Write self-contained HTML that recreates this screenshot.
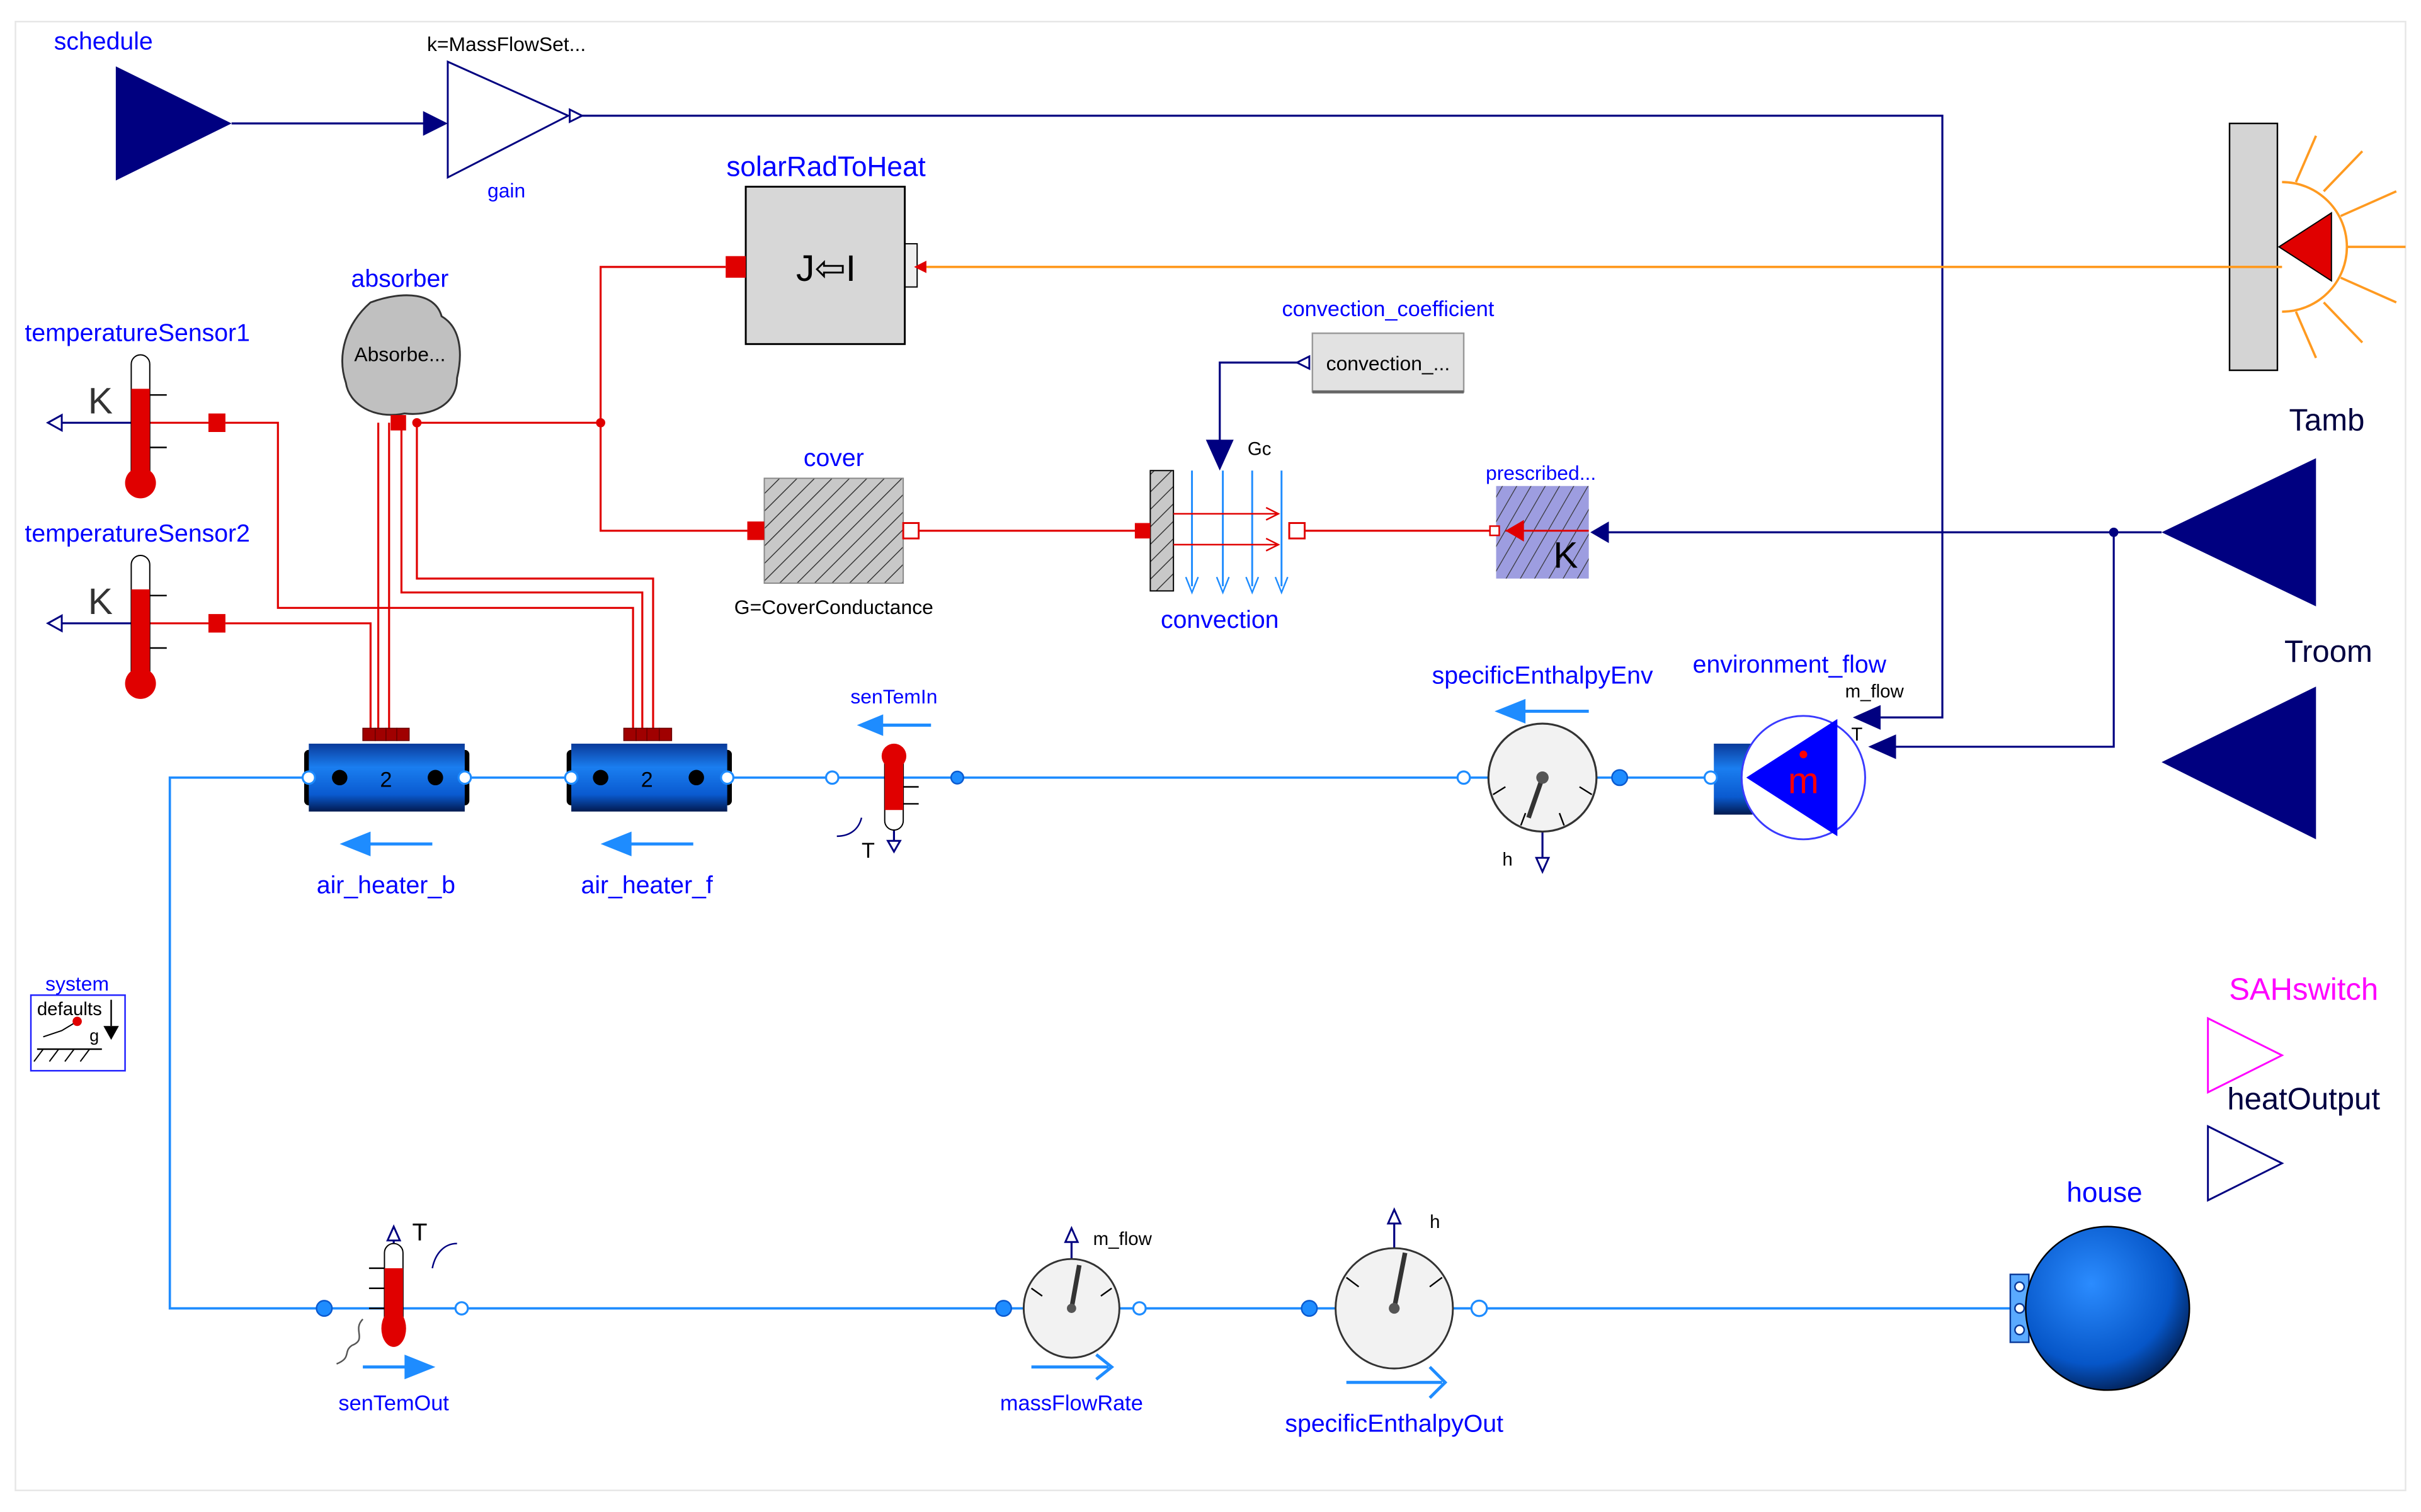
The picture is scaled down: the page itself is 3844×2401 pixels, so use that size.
<!DOCTYPE html>
<html><head><meta charset="utf-8"><style>html,body{margin:0;padding:0;background:#fff}svg{display:block}text{font-family:"Liberation Sans",sans-serif}</style></head>
<body>
<svg width="3844" height="2401" viewBox="0 0 1568 980" preserveAspectRatio="none" xmlns="http://www.w3.org/2000/svg">
<defs>
<pattern id="h1" width="8" height="8" patternUnits="userSpaceOnUse" patternTransform="rotate(45)"><rect width="8" height="8" fill="#c8c8c8"/><line x1="0" y1="0" x2="0" y2="8" stroke="#333" stroke-width="1.2"/></pattern>
<pattern id="h2" width="8" height="8" patternUnits="userSpaceOnUse" patternTransform="rotate(30)"><rect width="8" height="8" fill="#9d9de0"/><line x1="0" y1="0" x2="0" y2="8" stroke="#333" stroke-width="1"/></pattern>
<linearGradient id="pipe" x1="0" y1="0" x2="0" y2="1"><stop offset="0" stop-color="#0a3a9a"/><stop offset="0.35" stop-color="#1a7ef0"/><stop offset="0.75" stop-color="#0a5ad0"/><stop offset="1" stop-color="#021a50"/></linearGradient>
<radialGradient id="ball" cx="0.4" cy="0.35" r="0.7"><stop offset="0" stop-color="#2b8cff"/><stop offset="0.7" stop-color="#0656c8"/><stop offset="1" stop-color="#021c4c"/></radialGradient>
</defs>
<rect x="10" y="14" width="1548" height="952" fill="none" stroke="#e6e6e6"/>

<g stroke="#000080" stroke-width="1.3" fill="none">
<polyline points="150,80 276,80"/>
<polyline points="376,75 1258,75 1258,465 1218,465"/>
<polyline points="1400,345 1042,345"/>
<polyline points="1369,345 1369,484 1228,484"/>
<polyline points="848,235 790,235 790,287"/>
<line x1="85" y1="274" x2="40" y2="274"/>
<line x1="85" y1="404" x2="40" y2="404"/>
<line x1="999" y1="539" x2="999" y2="556"/>
<line x1="579" y1="530" x2="579" y2="545"/>
<line x1="255" y1="820" x2="255" y2="804"/>
<line x1="694" y1="817" x2="694" y2="805"/>
<line x1="903" y1="810" x2="903" y2="793"/>
</g>
<g fill="#000080">
<polygon points="75,43 150,80 75,117"/>
<polygon points="274,72 290,80 274,88"/>
<polygon points="1500,297 1400,345 1500,393"/>
<polygon points="1500,445 1400,494 1500,544"/>
<polygon points="1042,338 1030,345 1042,352"/>
<polygon points="1218,457 1200,465 1218,473"/>
<polygon points="1228,476 1210,484 1228,492"/>
<polygon points="781,285 799,285 790,305"/>
<circle cx="1369" cy="345" r="3"/>
</g>
<g fill="#fff" stroke="#000080" stroke-width="1.2">
<polygon points="290,40 368,75 290,115"/>
<polygon points="369,71 377,75 369,79"/>
<polygon points="848,231 840,235 848,239"/>
<polygon points="40,269 31,274 40,279"/>
<polygon points="40,399 31,404 40,409"/>
<polygon points="995,556 1003,556 999,565"/>
<polygon points="575,545 583,545 579,552"/>
<polygon points="251,804 259,804 255,795"/>
<polygon points="690,805 698,805 694,796"/>
<polygon points="899,793 907,793 903,784"/>
</g>

<rect x="1444" y="80" width="31" height="160" fill="#d4d4d4" stroke="#000" stroke-width="1"/>
<path d="M1478,118 A42,42 0 0 1 1478,202" fill="none" stroke="#ff9a20" stroke-width="1.5"/>
<g stroke="#ff9a20" stroke-width="1.5">
<line x1="1520" y1="160" x2="1558" y2="160"/><line x1="1516" y1="140" x2="1552" y2="124"/><line x1="1516" y1="180" x2="1552" y2="196"/>
<line x1="1505" y1="124" x2="1530" y2="98"/><line x1="1505" y1="196" x2="1530" y2="222"/><line x1="1487" y1="118" x2="1500" y2="88"/><line x1="1487" y1="202" x2="1500" y2="232"/>
<line x1="1478" y1="173" x2="600" y2="173"/>
</g>
<polygon points="1476,160 1510,138 1510,182" fill="#e00000" stroke="#000" stroke-width="0.8"/>
<rect x="586" y="158" width="8" height="28" fill="#eee" stroke="#000" stroke-width="0.8"/>
<polygon points="600,169 592,173 600,177" fill="#e00000"/>

<rect x="483" y="121" width="103" height="102" fill="#d7d7d7" stroke="#000" stroke-width="1.2"/>
<text x="535" y="182" font-size="24" text-anchor="middle" fill="#000">J⇦I</text>
<text x="535" y="114" font-size="18" text-anchor="middle" fill="#0000ff">solarRadToHeat</text>

<g stroke="#e00000" stroke-width="1.3" fill="none">
<polyline points="470,173 389,173 389,344 484,344"/>
<line x1="270" y1="274" x2="389" y2="274"/>
<line x1="97" y1="274" x2="135" y2="274"/>
<line x1="97" y1="404" x2="135" y2="404"/>
<polyline points="146,274 180,274 180,394 410,394 410,480"/>
<polyline points="146,404 240,404 240,480"/>
<line x1="245" y1="274" x2="245" y2="480"/>
<line x1="252" y1="274" x2="252" y2="480"/>
<polyline points="260,274 260,384 416,384 416,480"/>
<polyline points="270,274 270,375 423,375 423,480"/>
<line x1="595" y1="344" x2="740" y2="344"/>
<line x1="845" y1="344" x2="975" y2="344"/>
</g>
<circle cx="389" cy="274" r="3" fill="#e00000"/>
<circle cx="270" cy="274" r="3" fill="#e00000"/>
<rect x="470" y="166" width="13" height="14" fill="#e00000"/>
<rect x="135" y="268" width="11" height="12" fill="#e00000"/>
<rect x="135" y="398" width="11" height="12" fill="#e00000"/>
<g fill="#a00000" stroke="#600" stroke-width="0.6">
<rect x="235" y="472" width="8" height="8"/><rect x="243" y="472" width="7" height="8"/><rect x="250" y="472" width="7" height="8"/><rect x="257" y="472" width="8" height="8"/>
<rect x="404" y="472" width="8" height="8"/><rect x="412" y="472" width="7" height="8"/><rect x="419" y="472" width="8" height="8"/><rect x="427" y="472" width="8" height="8"/>
</g>

<path d="M240,196 C262,188 282,190 286,205 C298,212 300,228 296,245 C296,262 280,270 262,268 C242,272 226,262 224,248 C218,230 224,210 240,196 Z" fill="#c0c0c0" stroke="#333" stroke-width="1.2"/>
<text x="259" y="234" font-size="13" text-anchor="middle" fill="#000">Absorbe...</text>
<text x="259" y="186" font-size="16" text-anchor="middle" fill="#0000ff">absorber</text>
<rect x="253" y="269" width="10" height="10" fill="#e00000"/>

<g>
<text x="89" y="221" font-size="16" text-anchor="middle" fill="#0000ff">temperatureSensor1</text>
<rect x="85" y="230" width="12" height="85" rx="6" fill="#fff" stroke="#000" stroke-width="0.8"/>
<rect x="85" y="252" width="12" height="60" fill="#e00000"/>
<circle cx="91" cy="313" r="10" fill="#e00000"/>
<g stroke="#000" stroke-width="1"><line x1="97" y1="256" x2="108" y2="256"/><line x1="97" y1="290" x2="108" y2="290"/></g>
<text x="65" y="268" font-size="24" text-anchor="middle" fill="#333">K</text>
<text x="89" y="351" font-size="16" text-anchor="middle" fill="#0000ff">temperatureSensor2</text>
<rect x="85" y="360" width="12" height="85" rx="6" fill="#fff" stroke="#000" stroke-width="0.8"/>
<rect x="85" y="382" width="12" height="60" fill="#e00000"/>
<circle cx="91" cy="443" r="10" fill="#e00000"/>
<g stroke="#000" stroke-width="1"><line x1="97" y1="386" x2="108" y2="386"/><line x1="97" y1="420" x2="108" y2="420"/></g>
<text x="65" y="398" font-size="24" text-anchor="middle" fill="#333">K</text>
</g>

<rect x="495" y="310" width="90" height="68" fill="url(#h1)" stroke="#888" stroke-width="0.8"/>
<rect x="484" y="338" width="11" height="12" fill="#e00000"/>
<rect x="585" y="339" width="10" height="10" fill="#fff" stroke="#e00000" stroke-width="1.2"/>
<text x="540" y="302" font-size="16" text-anchor="middle" fill="#0000ff">cover</text>
<text x="540" y="398" font-size="13" text-anchor="middle" fill="#000">G=CoverConductance</text>

<rect x="745" y="305" width="15" height="78" fill="url(#h1)" stroke="#000" stroke-width="0.8"/>
<rect x="735" y="339" width="10" height="10" fill="#e00000"/>
<g stroke="#1e8cff" stroke-width="1.2"><line x1="772" y1="305" x2="772" y2="380"/><line x1="792" y1="305" x2="792" y2="380"/><line x1="811" y1="305" x2="811" y2="380"/><line x1="830" y1="305" x2="830" y2="380"/></g>
<g fill="none" stroke="#1e8cff" stroke-width="1"><polyline points="768,374 772,384 776,374"/><polyline points="788,374 792,384 796,374"/><polyline points="807,374 811,384 815,374"/><polyline points="826,374 830,384 834,374"/></g>
<g stroke="#e00000" stroke-width="1" fill="none"><line x1="760" y1="333" x2="828" y2="333"/><line x1="760" y1="353" x2="828" y2="353"/><polyline points="820,329 828,333 820,337"/><polyline points="820,349 828,353 820,357"/></g>
<rect x="835" y="339" width="10" height="10" fill="#fff" stroke="#e00000" stroke-width="1.2"/>
<text x="790" y="407" font-size="16" text-anchor="middle" fill="#0000ff">convection</text>
<text x="808" y="295" font-size="12" fill="#000">Gc</text>
<rect x="850" y="216" width="98" height="38" fill="#e2e2e2" stroke="#999" stroke-width="1"/>
<line x1="850" y1="254" x2="948" y2="254" stroke="#666" stroke-width="2"/>
<text x="899" y="240" font-size="13" text-anchor="middle" fill="#000">convection_...</text>
<text x="899" y="205" font-size="14" text-anchor="middle" fill="#0000ff">convection_coefficient</text>

<rect x="969" y="315" width="60" height="60" fill="url(#h2)"/>
<line x1="975" y1="344" x2="1029" y2="344" stroke="#e00000" stroke-width="1.2"/>
<polygon points="987,337 975,344 987,351" fill="#e00000"/>
<rect x="965" y="341" width="6" height="6" fill="#fff" stroke="#e00000" stroke-width="1"/>
<text x="1014" y="368" font-size="24" text-anchor="middle" fill="#000">K</text>
<text x="998" y="311" font-size="13" text-anchor="middle" fill="#0000ff">prescribed...</text>

<g stroke="#1e8cff" stroke-width="1.5" fill="none">
<polyline points="200,504 110,504 110,848 1303,848"/>
<line x1="301" y1="504" x2="370" y2="504"/>
<line x1="471" y1="504" x2="1108" y2="504"/>
</g>

<g>
<rect x="197" y="486" width="6" height="36" rx="3" fill="#000"/><rect x="298" y="486" width="6" height="36" rx="3" fill="#000"/>
<rect x="200" y="482" width="101" height="44" fill="url(#pipe)"/>
<circle cx="220" cy="504" r="5" fill="#000"/><circle cx="282" cy="504" r="5" fill="#000"/>
<text x="250" y="510" font-size="14" text-anchor="middle" fill="#000">2</text>
<rect x="367" y="486" width="6" height="36" rx="3" fill="#000"/><rect x="468" y="486" width="6" height="36" rx="3" fill="#000"/>
<rect x="370" y="482" width="101" height="44" fill="url(#pipe)"/>
<circle cx="389" cy="504" r="5" fill="#000"/><circle cx="451" cy="504" r="5" fill="#000"/>
<text x="419" y="510" font-size="14" text-anchor="middle" fill="#000">2</text>
<g fill="#fff" stroke="#1e8cff" stroke-width="1.3"><circle cx="200" cy="504" r="4"/><circle cx="301" cy="504" r="4"/><circle cx="370" cy="504" r="4"/><circle cx="471" cy="504" r="4"/></g>
<g stroke="#1e8cff" stroke-width="2"><line x1="236" y1="547" x2="280" y2="547"/><line x1="405" y1="547" x2="449" y2="547"/><line x1="570" y1="470" x2="603" y2="470"/><line x1="985" y1="461" x2="1029" y2="461"/></g>
<g fill="#1e8cff"><polygon points="220,547 240,539 240,555"/><polygon points="389,547 409,539 409,555"/><polygon points="555,470 572,463 572,477"/><polygon points="968,461 988,453 988,469"/></g>
<text x="250" y="579" font-size="16" text-anchor="middle" fill="#0000ff">air_heater_b</text>
<text x="419" y="579" font-size="16" text-anchor="middle" fill="#0000ff">air_heater_f</text>
</g>

<rect x="573" y="486" width="12" height="52" rx="6" fill="#fff" stroke="#000" stroke-width="0.8"/>
<rect x="573" y="490" width="12" height="35" fill="#e00000"/>
<circle cx="579" cy="490" r="8" fill="#e00000"/>
<g stroke="#000" stroke-width="1"><line x1="585" y1="510" x2="595" y2="510"/><line x1="585" y1="521" x2="595" y2="521"/></g>
<path d="M558,530 C556,538 550,542 542,542" fill="none" stroke="#000080" stroke-width="1"/>
<text x="558" y="556" font-size="14" fill="#000">T</text>
<circle cx="539" cy="504" r="4" fill="#fff" stroke="#1e8cff" stroke-width="1.3"/>
<circle cx="620" cy="504" r="4" fill="#1e8cff" stroke="#0a5ad0"/>
<text x="579" y="456" font-size="13" text-anchor="middle" fill="#0000ff">senTemIn</text>

<circle cx="999" cy="504" r="35" fill="#f2f2f2" stroke="#333" stroke-width="1.3"/>
<line x1="999" y1="504" x2="990" y2="530" stroke="#333" stroke-width="3"/>
<circle cx="999" cy="504" r="4" fill="#555"/>
<g stroke="#000" stroke-width="1"><line x1="967" y1="515" x2="975" y2="510"/><line x1="1031" y1="515" x2="1023" y2="510"/><line x1="985" y1="535" x2="988" y2="527"/><line x1="1013" y1="535" x2="1010" y2="527"/></g>
<text x="973" y="561" font-size="12" fill="#000">h</text>
<circle cx="948" cy="504" r="4" fill="#fff" stroke="#1e8cff" stroke-width="1.3"/>
<circle cx="1049" cy="504" r="5" fill="#1e8cff" stroke="#0a5ad0"/>
<text x="999" y="443" font-size="16" text-anchor="middle" fill="#0000ff">specificEnthalpyEnv</text>

<rect x="1110" y="482" width="25" height="46" fill="url(#pipe)"/>
<circle cx="1108" cy="504" r="4" fill="#fff" stroke="#1e8cff" stroke-width="1.3"/>
<circle cx="1168" cy="504" r="40" fill="#fff" stroke="#3a3aff" stroke-width="1.2"/>
<polygon points="1131,504 1190,466 1190,542" fill="#0000ff"/>
<text x="1168" y="514" font-size="24" text-anchor="middle" fill="#ff0000">m</text>
<circle cx="1168" cy="489" r="2.5" fill="#ff0000"/>
<text x="1159" y="436" font-size="16" text-anchor="middle" fill="#0000ff">environment_flow</text>
<text x="1195" y="452" font-size="12" fill="#000">m_flow</text>
<text x="1199" y="480" font-size="12" fill="#000">T</text>
<text x="1507" y="279" font-size="20" text-anchor="middle" fill="#000040">Tamb</text>
<text x="1508" y="429" font-size="20" text-anchor="middle" fill="#000040">Troom</text>

<rect x="20" y="645" width="61" height="49" fill="#fff" stroke="#2020ff" stroke-width="1"/>
<text x="24" y="658" font-size="12" fill="#000">defaults</text>
<line x1="72" y1="648" x2="72" y2="665" stroke="#000"/><polygon points="67,665 77,665 72,674" fill="#000"/>
<text x="58" y="675" font-size="11" fill="#000">g</text>
<line x1="24" y1="680" x2="66" y2="680" stroke="#000"/>
<g stroke="#000" stroke-width="0.8"><line x1="28" y1="680" x2="22" y2="688"/><line x1="38" y1="680" x2="32" y2="688"/><line x1="48" y1="680" x2="42" y2="688"/><line x1="58" y1="680" x2="52" y2="688"/></g>
<polyline points="28,672 40,668 50,662" fill="none" stroke="#000" stroke-width="0.8"/>
<circle cx="50" cy="662" r="3" fill="#e00000"/>
<text x="50" y="642" font-size="13" text-anchor="middle" fill="#0000ff">system</text>

<rect x="249" y="806" width="12" height="62" rx="6" fill="#fff" stroke="#000" stroke-width="0.8"/>
<rect x="249" y="822" width="12" height="42" fill="#e00000"/>
<ellipse cx="255" cy="861" rx="8" ry="12" fill="#e00000"/>
<g stroke="#000" stroke-width="1"><line x1="239" y1="822" x2="249" y2="822"/><line x1="239" y1="835" x2="249" y2="835"/><line x1="239" y1="848" x2="249" y2="848"/></g>
<path d="M235,855 C228,862 238,868 228,872 C222,876 228,880 218,884" fill="none" stroke="#555" stroke-width="1"/>
<text x="267" y="804" font-size="16" fill="#000">T</text>
<path d="M280,822 C282,812 288,806 296,806" fill="none" stroke="#000080" stroke-width="1"/>
<circle cx="210" cy="848" r="5" fill="#1e8cff" stroke="#0a5ad0"/>
<circle cx="299" cy="848" r="4" fill="#fff" stroke="#1e8cff" stroke-width="1.3"/>
<line x1="235" y1="886" x2="265" y2="886" stroke="#1e8cff" stroke-width="2"/>
<polygon points="262,878 282,886 262,894" fill="#1e8cff"/>
<text x="255" y="914" font-size="14" text-anchor="middle" fill="#0000ff">senTemOut</text>

<ellipse cx="694" cy="848" rx="31" ry="32" fill="#f2f2f2" stroke="#333" stroke-width="1.2"/>
<line x1="694" y1="848" x2="699" y2="820" stroke="#333" stroke-width="3"/>
<circle cx="694" cy="848" r="3" fill="#555"/>
<g stroke="#000" stroke-width="1"><line x1="668" y1="835" x2="675" y2="840"/><line x1="720" y1="835" x2="713" y2="840"/></g>
<circle cx="650" cy="848" r="5" fill="#1e8cff" stroke="#0a5ad0"/>
<circle cx="738" cy="848" r="4" fill="#fff" stroke="#1e8cff" stroke-width="1.3"/>
<text x="708" y="807" font-size="12" fill="#000">m_flow</text>
<line x1="668" y1="886" x2="718" y2="886" stroke="#1e8cff" stroke-width="2"/>
<polyline points="710,878 720,886 710,894" fill="none" stroke="#1e8cff" stroke-width="2"/>
<text x="694" y="914" font-size="14" text-anchor="middle" fill="#0000ff">massFlowRate</text>

<ellipse cx="903" cy="848" rx="38" ry="39" fill="#f2f2f2" stroke="#333" stroke-width="1.2"/>
<line x1="903" y1="848" x2="910" y2="812" stroke="#333" stroke-width="3"/>
<circle cx="903" cy="848" r="3.5" fill="#555"/>
<g stroke="#000" stroke-width="1"><line x1="872" y1="828" x2="880" y2="834"/><line x1="934" y1="828" x2="926" y2="834"/></g>
<circle cx="848" cy="848" r="5" fill="#1e8cff" stroke="#0a5ad0"/>
<circle cx="958" cy="848" r="5" fill="#fff" stroke="#1e8cff" stroke-width="1.3"/>
<text x="926" y="796" font-size="12" fill="#000">h</text>
<line x1="872" y1="896" x2="934" y2="896" stroke="#1e8cff" stroke-width="2"/>
<polyline points="926,886 936,896 926,906" fill="none" stroke="#1e8cff" stroke-width="2"/>
<text x="903" y="928" font-size="16" text-anchor="middle" fill="#0000ff">specificEnthalpyOut</text>

<rect x="1302" y="826" width="12" height="44" fill="#5aaaff" stroke="#0a3a9a" stroke-width="1"/>
<g fill="#fff" stroke="#0a3a9a"><circle cx="1308" cy="834" r="3"/><circle cx="1308" cy="848" r="3"/><circle cx="1308" cy="862" r="3"/></g>
<circle cx="1365" cy="848" r="53" fill="url(#ball)" stroke="#000" stroke-width="1"/>
<text x="1363" y="779" font-size="18" text-anchor="middle" fill="#0000ff">house</text>

<text x="1492" y="648" font-size="20" text-anchor="middle" fill="#ff00ff">SAHswitch</text>
<polygon points="1430,660 1478,684 1430,708" fill="#fff" stroke="#ff00ff" stroke-width="1.2"/>
<text x="1492" y="719" font-size="20" text-anchor="middle" fill="#000040">heatOutput</text>
<polygon points="1430,730 1478,754 1430,778" fill="#fff" stroke="#000080" stroke-width="1.2"/>

<text x="67" y="32" font-size="16" text-anchor="middle" fill="#0000ff">schedule</text>
<text x="328" y="33" font-size="13" text-anchor="middle" fill="#000">k=MassFlowSet...</text>
<text x="328" y="128" font-size="13" text-anchor="middle" fill="#0000ff">gain</text>
</svg>
</body></html>
